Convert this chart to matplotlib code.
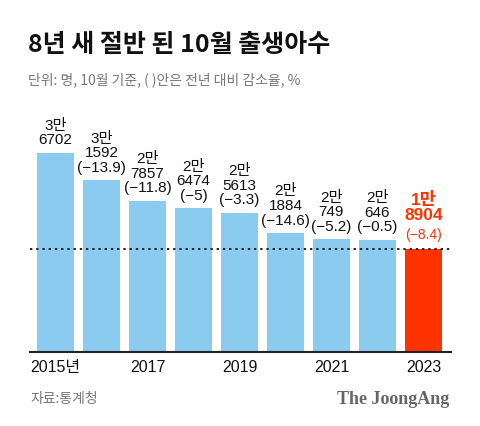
import matplotlib
matplotlib.use("Agg")
import matplotlib.pyplot as plt

plt.rcParams['font.family'] = ['Liberation Sans', 'Noto Sans CJK KR', 'DejaVu Sans']
KR = ['Noto Sans CJK KR', 'DejaVu Sans']

years = [2015, 2016, 2017, 2018, 2019, 2020, 2021, 2022, 2023]
births = [36702, 31592, 27857, 26474, 25613, 21884, 20749, 20646, 18904]
man_labels = ['3만', '3만', '2만', '2만', '2만', '2만', '2만', '2만', '1만']
rest_labels = ['6702', '1592', '7857', '6474', '5613', '1884', '749', '646', '8904']
changes = [None, '−13.9', '−11.8', '−5', '−3.3', '−14.6', '−5.2', '−0.5', '−8.4']
tick_labels = ['2015년', '', '2017', '', '2019', '', '2021', '', '2023']

BLUE = '#8ccbf0'
RED = '#ff3300'

fig = plt.figure(figsize=(4.8, 4.26), dpi=100)
ax = fig.add_axes([30/480, 74/426, 421/480, 252/426])

xs = list(range(len(years)))
colors = [BLUE] * (len(years) - 1) + [RED]
ax.bar(xs, births, width=0.8, color=colors, zorder=2)
ax.set_xlim(-0.554, 8.6)
ax.set_ylim(0, 46400)

# dotted reference line at latest value
ax.axhline(births[-1], color='#222222', linestyle=(0, (1.2, 2)), linewidth=1.4, zorder=3)

for i, v in enumerate(births):
    last = i == len(births) - 1
    if last:
        ax.annotate(f'({changes[i]})', (i, v), xytext=(0, 5), textcoords='offset points',
                    ha='center', va='bottom', fontsize=10, color=RED)
        ax.annotate(f'{man_labels[i]}\n{rest_labels[i]}', (i, v), xytext=(0, 19), textcoords='offset points',
                    ha='center', va='bottom', fontsize=12.5, color=RED, fontweight='bold', linespacing=1.0)
    else:
        lines = [man_labels[i], rest_labels[i]]
        if changes[i]:
            lines.append(f'({changes[i]})')
        ax.annotate('\n'.join(lines), (i, v), xytext=(0, 4), textcoords='offset points',
                    ha='center', va='bottom', fontsize=11, color='#111111', linespacing=1.05)

for s in ['top', 'right', 'left']:
    ax.spines[s].set_visible(False)
ax.spines['bottom'].set_linewidth(1.5)
ax.spines['bottom'].set_color('#222222')
ax.set_yticks([])
ax.set_xticks(xs)
ax.set_xticklabels(tick_labels, fontsize=11.5, color='#111111')
ax.tick_params(axis='x', length=0, pad=6)

fig.text(28/480, 1 - 45/426, '8년 새 절반 된 10월 출생아수', fontsize=18, fontweight='heavy',
         family=KR, ha='left', va='center', color='#111111')
fig.text(28/480, 1 - 80/426, '단위: 명, 10월 기준, ( )안은 전년 대비 감소율, %', fontsize=10,
         family=KR, ha='left', va='center', color='#777777')
fig.text(30/480, 1 - 399/426, '자료:통계청', fontsize=10, family=KR, ha='left', va='center', color='#777777')
fig.text(449/480, 1 - 399/426, 'The JoongAng', fontsize=13, fontweight='bold',
         family='Liberation Serif', ha='right', va='center', color='#666666')

fig.savefig('out.png', dpi=100, facecolor='white')
